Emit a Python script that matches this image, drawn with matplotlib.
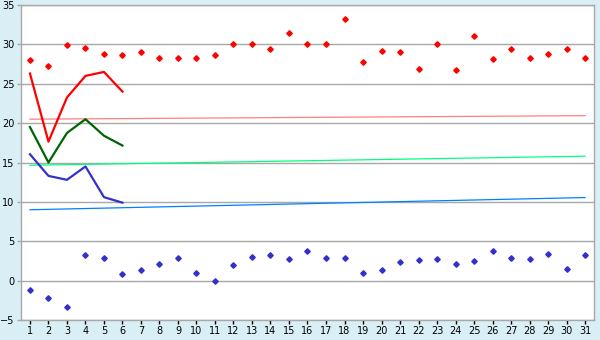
import matplotlib
matplotlib.use("Agg")
import matplotlib.pyplot as plt

# categories 1..31
days = list(range(1, 32))

# upper red points and lower blue points
red_pts = [28.0, 27.2, 29.9, 29.5, 28.8, 28.6, 29.0, 28.3, 28.3, 28.3,
           28.6, 30.1, 30.0, 29.35, 31.4, 30.0, 30.0, 33.2, 27.7, 29.2,
           29.0, 26.9, 30.0, 26.7, 31.1, 28.1, 29.35, 28.3, 28.8, 29.35, 28.3]
blue_pts = [-1.15, -2.2, -3.3, 3.3, 2.9, 0.9, 1.4, 2.15, 2.9, 1.0,
            0.0, 2.0, 3.05, 3.3, 2.8, 3.8, 2.9, 2.9, 1.0, 1.4,
            2.4, 2.65, 2.8, 2.15, 2.55, 3.7, 2.9, 2.8, 3.4, 1.5, 3.3]

# short lines over the first six days
line_days = [1, 2, 3, 4, 5, 6]
red_line = [26.3, 17.65, 23.25, 26.0, 26.5, 24.0]
green_line = [19.5, 15.0, 18.75, 20.5, 18.4, 17.15]
blue_line = [16.05, 13.3, 12.8, 14.5, 10.6, 9.9]

# thin trend lines, start and end values
trend_days = [1, 31]
pink_trend = [20.5, 20.95]
lgreen_trend = [14.65, 15.8]
lblue_trend = [9.0, 10.55]

bg = "#d9eff5"
grey = "#a8a8a8"

fig = plt.figure(figsize=(6, 3.4), dpi=100, facecolor=bg)
ax = fig.add_axes([0.0345, 0.0588, 0.956, 0.9265])
ax.set_facecolor("white")

ax.plot(trend_days, pink_trend, color="#ff8080", lw=0.9)
ax.plot(trend_days, lgreen_trend, color="#00ff80", lw=0.9)
ax.plot(trend_days, lblue_trend, color="#0080ff", lw=0.9)

ax.plot(line_days, red_line, color="#ff0000", lw=1.6)
ax.plot(line_days, green_line, color="#006400", lw=1.6)
ax.plot(line_days, blue_line, color="#3232c8", lw=1.6)

ax.plot(days, red_pts, ls="none", marker="D", ms=2.8, color="#ff0000")
ax.plot(days, blue_pts, ls="none", marker="D", ms=2.8, color="#3232c8")

ax.set_xlim(0.5, 31.5)
ax.set_ylim(-5, 35)
ax.set_xticks(days)
ax.set_yticks(range(-5, 36, 5))
ax.yaxis.grid(True, color=grey, lw=1)
ax.set_axisbelow(True)

for s in ax.spines.values():
    s.set_color(grey)
    s.set_linewidth(1)
ax.tick_params(axis="both", labelcolor="black", labelsize=7, length=3, width=1, pad=1.5)
ax.tick_params(axis="x", color="black")
ax.tick_params(axis="y", color=grey)

fig.savefig("out.png", dpi=100, facecolor=bg)
